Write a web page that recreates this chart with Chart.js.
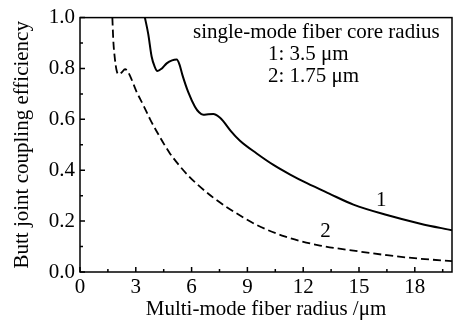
<!DOCTYPE html>
<html>
<head>
<meta charset="utf-8">
<script src="https://cdn.jsdelivr.net/npm/chart.js@4.4.1/dist/chart.umd.min.js"></script>
<style>
  body { margin: 0; background: #fff; }
  #wrap { width: 463px; height: 323px; }
</style>
</head>
<body>
<div id="wrap"><canvas id="chart" width="463" height="323"></canvas></div>
<script>
// curve 1: single-mode core radius 3.5 um
const x1 = [3.49, 3.67, 3.85, 4.0, 4.16, 4.4, 4.66, 4.95, 5.2, 5.35, 5.5, 5.82, 6.18, 6.4, 6.63, 6.9, 7.17, 7.5, 7.7, 8.1, 8.6, 9.5, 10.4, 11.3, 12.2, 13.4, 14.7, 16.5, 18.3, 20];
const y1 = [1.0, 0.935, 0.847, 0.81, 0.79, 0.8, 0.82, 0.832, 0.835, 0.815, 0.776, 0.707, 0.65, 0.628, 0.618, 0.62, 0.621, 0.608, 0.593, 0.555, 0.516, 0.466, 0.421, 0.383, 0.349, 0.308, 0.265, 0.224, 0.19, 0.164];
// curve 2: single-mode core radius 1.75 um
const x2 = [1.74, 1.79, 1.88, 1.96, 2.06, 2.24, 2.42, 2.55, 2.69, 3.05, 3.41, 3.77, 4.3, 4.8, 5.38, 5.91, 6.27, 7.17, 8.06, 9.5, 11.0, 12.9, 14.7, 16.5, 18.3, 20];
const y2 = [1.0, 0.911, 0.835, 0.795, 0.777, 0.784, 0.797, 0.79, 0.771, 0.707, 0.655, 0.6, 0.53, 0.47, 0.415, 0.372, 0.347, 0.292, 0.247, 0.185, 0.14, 0.104, 0.084, 0.066, 0.052, 0.043];

const xTicks = [0, 3, 6, 9, 12, 15, 18];
const yTicks = [0, 0.2, 0.4, 0.6, 0.8, 1.0];
const legendLines = ['single-mode fiber core radius', '1: 3.5 \u03bcm', '2: 1.75 \u03bcm'];
const curveLabels = [{ text: '1', x: 16.2, y: 0.281 }, { text: '2', x: 13.2, y: 0.16 }];

const FONT = '"Liberation Serif", "Times New Roman", serif';

function pts(xs, ys) {
  return xs.map((x, i) => ({ x: x, y: ys[i] }));
}

// frame, inward ticks, text annotations
const decor = {
  id: 'decor',
  afterDraw(chart) {
    const ctx = chart.ctx;
    const a = chart.chartArea;
    const sx = chart.scales.x, sy = chart.scales.y;
    ctx.save();
    ctx.strokeStyle = '#000';
    ctx.lineWidth = 1.5;
    ctx.strokeRect(a.left, a.top, a.right - a.left, a.bottom - a.top);

    ctx.beginPath();
    for (let v = 0; v <= 19.5; v += 1.5) {
      const px = sx.getPixelForValue(v);
      const len = (v % 3 === 0) ? 5 : 3;
      ctx.moveTo(px, a.bottom);
      ctx.lineTo(px, a.bottom - len);
    }
    for (let i = 0; i <= 10; i++) {
      const py = sy.getPixelForValue(i / 10);
      const len = (i % 2 === 0) ? 5 : 3;
      ctx.moveTo(a.left, py);
      ctx.lineTo(a.left + len, py);
    }
    ctx.stroke();

    ctx.fillStyle = '#000';
    ctx.font = '21px ' + FONT;
    ctx.textBaseline = 'alphabetic';
    ctx.textAlign = 'left';
    ctx.fillText(legendLines[0], 193, 38);
    ctx.fillText(legendLines[1], 268, 60);
    ctx.fillText(legendLines[2], 268, 82);

    ctx.textAlign = 'center';
    ctx.textBaseline = 'middle';
    curveLabels.forEach(l => {
      ctx.fillText(l.text, sx.getPixelForValue(l.x), sy.getPixelForValue(l.y));
    });
    ctx.restore();
  }
};

new Chart(document.getElementById('chart'), {
  type: 'line',
  data: {
    datasets: [
      {
        label: '1',
        data: pts(x1, y1),
        borderColor: '#000',
        borderWidth: 2,
        pointRadius: 0,
        cubicInterpolationMode: 'monotone'
      },
      {
        label: '2',
        data: pts(x2, y2),
        borderColor: '#000',
        borderWidth: 1.8,
        borderDash: [8, 4],
        pointRadius: 0,
        cubicInterpolationMode: 'monotone'
      }
    ]
  },
  options: {
    responsive: false,
    animation: false,
    devicePixelRatio: 1,
    layout: { padding: { top: 10, right: 11, left: 0, bottom: 0 } },
    plugins: { legend: { display: false }, tooltip: { enabled: false } },
    scales: {
      x: {
        type: 'linear',
        min: 0,
        max: 20,
        afterFit: s => { s.height = 51; },
        afterBuildTicks: s => { s.ticks = xTicks.map(v => ({ value: v })); },
        grid: { display: false, drawTicks: false },
        border: { display: false },
        ticks: { color: '#000', padding: 3, font: { family: FONT, size: 21 }, maxRotation: 0 },
        title: {
          display: true,
          text: 'Multi-mode fiber radius /\u03bcm',
          color: '#000',
          font: { family: FONT, size: 21 },
          padding: { top: 0, bottom: 1 }
        }
      },
      y: {
        min: 0,
        max: 1,
        afterFit: s => { s.width = 80; },
        afterBuildTicks: s => { s.ticks = yTicks.map(v => ({ value: v })); },
        grid: { display: false, drawTicks: false },
        border: { display: false },
        ticks: { color: '#000', padding: 5, font: { family: FONT, size: 21 }, callback: v => v.toFixed(1) },
        title: {
          display: true,
          text: 'Butt joint coupling efficiency',
          color: '#000',
          font: { family: FONT, size: 21 },
          padding: { top: 10, bottom: 0 }
        }
      }
    }
  },
  plugins: [decor]
});
</script>
</body>
</html>
